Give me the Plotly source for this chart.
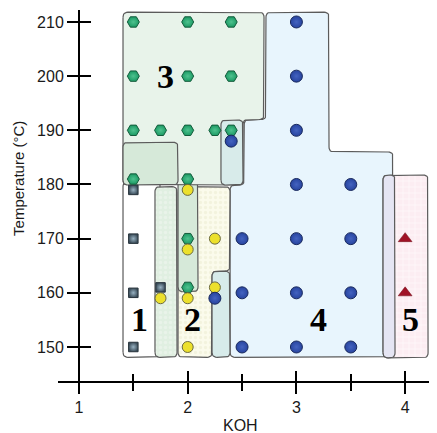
import numpy as np
import plotly.graph_objects as go

# ---------------- data ----------------
sq_koh = [1.5, 1.5, 1.5, 1.5, 1.75]
sq_t = [150, 160, 170, 179, 161]

hex_koh = [1.5, 2.0, 2.4, 1.5, 2.0, 2.4, 1.5, 1.75, 2.0, 2.25, 2.4, 1.5, 2.0, 2.0, 2.0]
hex_t = [210, 210, 210, 200, 200, 200, 190, 190, 190, 190, 190, 181, 181, 170, 161]

yel_koh = [1.75, 2.0, 2.0, 2.0, 2.25, 2.25, 2.0]
yel_t = [159, 179, 168, 159, 170, 161, 150]

blue_koh = [2.4, 2.25, 2.5, 2.5, 2.5, 3, 3, 3, 3, 3, 3, 3, 3.5, 3.5, 3.5, 3.5]
blue_t = [188, 159, 150, 160, 170, 150, 160, 170, 180, 190, 200, 210, 150, 160, 170, 180]

tri_koh = [4, 4]
tri_t = [160, 170]

# region outlines (KOH, temperature) vertices
reg4_koh = [2.39, 3.889, 3.889, 3.30, 3.30, 2.72, 2.72, 2.52, 2.52, 2.39]
reg4_t = [148.1, 148.1, 186.0, 186.0, 211.8, 211.8, 192.0, 192.0, 179.9, 179.9]

reg2_koh = [1.911, 2.389, 2.389, 2.224, 2.224, 1.911]
reg2_t = [179.6, 179.6, 164.0, 164.0, 148.1, 148.1]

reg1_koh = [1.405, 1.75, 1.75, 1.405]
reg1_t = [148.1, 148.1, 180.5, 180.5]

boxB_koh = [1.911, 2.095, 2.095, 1.911]
boxB_t = [160.2, 160.2, 181.0, 181.0]

box175_koh = [1.699, 1.902, 1.902, 1.699]
box175_t = [148.1, 148.1, 179.6, 179.6]

teal225_koh = [2.224, 2.389, 2.389, 2.224]
teal225_t = [148.1, 148.1, 164.0, 164.0]

reg3_koh = [1.405, 2.702, 2.702, 2.509, 2.509, 1.405]
reg3_t = [211.8, 211.8, 192.0, 192.0, 179.9, 179.9]

boxA_koh = [1.405, 1.911, 1.911, 1.405]
boxA_t = [179.9, 179.9, 187.8, 187.8]

teal24_koh = [2.306, 2.509, 2.509, 2.306]
teal24_t = [179.9, 179.9, 191.9, 191.9]

reg5_koh = [3.797, 4.211, 4.211, 3.797]
reg5_t = [148.0, 148.0, 181.75, 181.75]

lav_koh = [3.797, 3.907, 3.907, 3.797]
lav_t = [148.0, 148.0, 181.75, 181.75]

labels = ["1", "2", "3", "4", "5"]
label_koh = [1.56, 2.045, 1.80, 3.20, 4.05]
label_t = [155, 155, 200, 155, 155]

# ---------------- geometry helpers ----------------
XR = [0.807, 4.293]
YR = [141.69, 212.21]
RX = 0.046   # corner radius in KOH units (~5px)
RY = 0.92    # corner radius in degC units (~5px)


def rounded(xs, ys, rx=RX, ry=RY, n=7):
    px, py = [], []
    m = len(xs)
    for i in range(m):
        x0, y0 = xs[i - 1], ys[i - 1]
        x1, y1 = xs[i], ys[i]
        x2, y2 = xs[(i + 1) % m], ys[(i + 1) % m]
        ax = x1 + np.sign(x0 - x1) * rx
        ay = y1 + np.sign(y0 - y1) * ry
        bx = x1 + np.sign(x2 - x1) * rx
        by = y1 + np.sign(y2 - y1) * ry
        for t in np.linspace(0, 1, n):
            px.append((1 - t) ** 2 * ax + 2 * (1 - t) * t * x1 + t ** 2 * bx)
            py.append((1 - t) ** 2 * ay + 2 * (1 - t) * t * y1 + t ** 2 * by)
    px.append(px[0])
    py.append(py[0])
    return px, py


fig = go.Figure()

OUT = "#5b5b5b"


def add_region(xs, ys, color, pattern=None):
    px, py = rounded(xs, ys)
    kw = {}
    if pattern is not None:
        kw["fillpattern"] = pattern
    fig.add_trace(go.Scatter(
        x=px, y=py, mode="lines", fill="toself", fillcolor=color,
        line=dict(color=OUT, width=1.2), hoverinfo="skip", showlegend=False, **kw))


add_region(reg4_koh, reg4_t, "#e8f5fd")
add_region(reg2_koh, reg2_t, "#fbfbec",
           dict(shape=".", bgcolor="#fbfbec", fgcolor="#ecebcf", size=5, solidity=0.35))
add_region(reg1_koh, reg1_t, "#ffffff")
add_region(boxB_koh, boxB_t, "#d6e9d9")
add_region(box175_koh, box175_t, "#e0efe1",
           dict(shape=".", bgcolor="#e0efe1", fgcolor="#f1f8f1", size=5, solidity=0.35))
add_region(teal225_koh, teal225_t, "#d7ebea")
add_region(reg3_koh, reg3_t, "#e8f3ea")
add_region(boxA_koh, boxA_t, "#d6e9d9")
add_region(teal24_koh, teal24_t, "#d8ebea")
add_region(reg5_koh, reg5_t, "#fcedf2",
           dict(shape="+", bgcolor="#fcedf2", fgcolor="#ffffff", size=6, solidity=0.3))
add_region(lav_koh, lav_t, "#e5e5f3")

# ---------------- markers ----------------
fig.add_trace(go.Scatter(
    x=sq_koh, y=sq_t, mode="markers", showlegend=False, hoverinfo="skip", cliponaxis=False,
    marker=dict(symbol="square", size=9.5, color="#3c4e5b",
                gradient=dict(type="radial", color="#98b2c2"),
                line=dict(color="#26323b", width=1))))
fig.add_trace(go.Scatter(
    x=hex_koh, y=hex_t, mode="markers", showlegend=False, hoverinfo="skip", cliponaxis=False,
    marker=dict(symbol="hexagon2", size=12, color="#1c9a64",
                gradient=dict(type="radial", color="#4fc28f"),
                line=dict(color="#145c3c", width=1))))
fig.add_trace(go.Scatter(
    x=yel_koh, y=yel_t, mode="markers", showlegend=False, hoverinfo="skip", cliponaxis=False,
    marker=dict(symbol="circle", size=11, color="#ece02c",
                line=dict(color="#6b6a40", width=1))))
fig.add_trace(go.Scatter(
    x=blue_koh, y=blue_t, mode="markers", showlegend=False, hoverinfo="skip", cliponaxis=False,
    marker=dict(symbol="circle", size=12, color="#27449f",
                gradient=dict(type="radial", color="#4463c0"),
                line=dict(color="#1a2a5e", width=1))))
fig.add_trace(go.Scatter(
    x=tri_koh, y=tri_t, mode="markers", showlegend=False, hoverinfo="skip", cliponaxis=False,
    marker=dict(symbol="triangle-up", size=12, color="#a01226",
                line=dict(color="#6e0a16", width=0.5))))

# invisible trace for the overlay axes (inner halves of the cross ticks)
fig.add_trace(go.Scatter(x=[None], y=[None], xaxis="x2", yaxis="y2",
                         showlegend=False, hoverinfo="skip"))

# region labels
for txt, xv, yv in zip(labels, label_koh, label_t):
    fig.add_annotation(x=xv, y=yv, text=txt, showarrow=False, xref="x", yref="y",
                       font=dict(family="Liberation Serif", size=34, color="#000000",
                                 weight="bold"),
                       xanchor="center", yanchor="middle")

# axis titles
fig.add_annotation(x=2.49, y=-0.0864, xref="x", yref="paper", text="KOH", showarrow=False,
                   font=dict(family="Liberation Sans", size=16, color="#1a1a1a"),
                   xanchor="center", yanchor="middle")
fig.add_annotation(x=-0.103, y=181.2, xref="paper", yref="y", text="Temperature (°C)",
                   showarrow=False, textangle=-90,
                   font=dict(family="Liberation Sans", size=15, color="#1a1a1a"),
                   xanchor="center", yanchor="middle")

XPOS = 0.0554   # paper x of the y axis (at KOH = 1)
YPOS = 0.0262   # paper y of the x axis

common_x = dict(range=XR, tick0=1, dtick=1, showgrid=False, zeroline=False,
                tickcolor="#000000", tickwidth=2, ticklen=11)
common_y = dict(range=YR, tick0=150, dtick=10, showgrid=False, zeroline=False,
                tickcolor="#000000", tickwidth=2, ticklen=11)

# the page body has an 8px margin, so the figure is 8px smaller than the window
fig.update_layout(
    width=429, height=425,
    margin=dict(l=50, r=0, t=2, b=41, pad=0),
    paper_bgcolor="#ffffff", plot_bgcolor="rgba(0,0,0,0)",
    font=dict(family="Liberation Sans", size=16, color="#1a1a1a"),
    xaxis=dict(**common_x, showline=True, linecolor="#000000", linewidth=2,
               ticks="outside", anchor="free", position=YPOS,
               tickfont=dict(size=16, color="#1a1a1a"),
               minor=dict(ticks="outside", tick0=1, dtick=0.5, ticklen=8, tickwidth=1.5,
                          tickcolor="#000000", showgrid=False)),
    xaxis2=dict(**common_x, overlaying="x", showline=False, ticks="inside",
                showticklabels=False, anchor="free", position=YPOS,
                minor=dict(ticks="inside", tick0=1, dtick=0.5, ticklen=8, tickwidth=1.5,
                           tickcolor="#000000", showgrid=False)),
    yaxis=dict(**common_y, showline=True, linecolor="#000000", linewidth=2,
               ticks="outside", anchor="free", position=XPOS,
               tickfont=dict(size=16, color="#1a1a1a")),
    yaxis2=dict(**common_y, overlaying="y", showline=False, ticks="inside",
                showticklabels=False, anchor="free", position=XPOS),
)

fig.write_html("out.html")
